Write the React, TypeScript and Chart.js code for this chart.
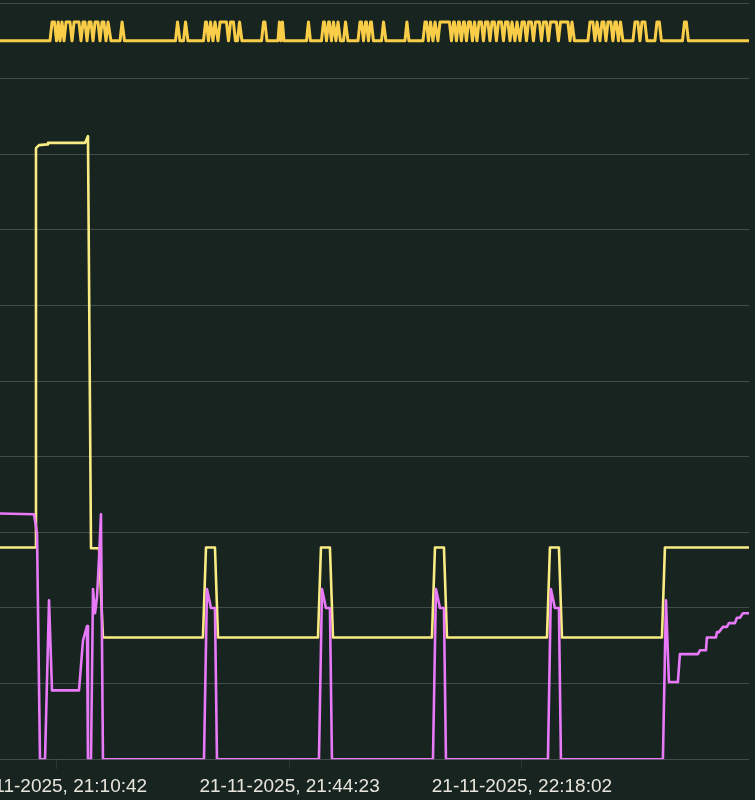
import React, { useEffect, useRef } from "react";
import { Chart, registerables } from "chart.js";

Chart.register(...registerables);

// ---------- data ----------
const DATE_LABEL = "21-11-2025";
const WINDOW_START = "21:02:27";
const WINDOW_END = "22:50:55";
const TICK_TIMES = ["21:10:42", "21:44:23", "22:18:02"];

// [minutes since window start, value]
const YELLOW: [number, number][] = [
  [0, 28.0], [5.07, 28.0], [5.21, 80.8], [5.65, 81.2], [6.81, 81.3], [6.95, 81.5],
  [12.31, 81.5], [12.74, 82.4], [13.18, 27.9], [14.34, 27.9], [14.91, 16.1],
  [29.39, 16.1], [29.83, 28.0], [31.13, 28.0], [31.57, 16.1],
  [46.05, 16.1], [46.48, 28.0], [47.78, 28.0], [48.22, 16.1],
  [62.55, 16.1], [62.99, 28.0], [64.29, 28.0], [64.73, 16.1],
  [79.21, 16.1], [79.64, 28.0], [80.94, 28.0], [81.38, 16.1],
  [95.86, 16.1], [96.29, 28.0], [108.47, 28.0],
];

const VIOLET: [number, number][] = [
  [0, 32.5], [4.92, 32.4], [5.36, 29.9], [5.79, 0], [6.52, 0], [7.10, 21.0], [7.53, 9.1],
  [11.44, 9.1], [12.02, 15.7], [12.60, 17.6], [12.74, 0], [13.18, 0], [13.47, 22.5],
  [13.76, 19.3], [14.05, 21.4], [14.34, 26.6], [14.62, 32.4], [14.91, 0],
  [29.54, 0], [29.97, 22.5], [30.55, 20.0], [31.13, 20.0], [31.42, 0],
  [46.19, 0], [46.63, 22.5], [47.20, 20.0], [47.78, 20.0], [48.07, 0],
  [62.70, 0], [63.13, 22.5], [63.71, 20.0], [64.29, 20.0], [64.58, 0],
  [79.35, 0], [79.78, 22.5], [80.36, 20.0], [80.94, 20.0], [81.23, 0],
  [96.00, 0], [96.44, 21.0], [96.87, 10.2], [98.17, 10.2], [98.46, 13.9], [101.07, 13.9],
  [101.36, 14.4], [102.23, 14.4], [102.37, 16.1], [103.68, 16.1], [103.82, 16.8],
  [104.11, 16.8], [104.69, 17.5], [105.27, 17.5], [105.56, 18.0], [106.43, 18.0],
  [106.72, 18.7], [107.15, 18.7], [107.59, 19.3], [108.47, 19.3],
];

// on/off signal: each burst = [rise start, dip, dip, ..., fall end] (minutes)
const ORANGE_LOW = 95;
const ORANGE_HIGH = 97.5;
const ORANGE_SAMPLE = 0.3;
const ORANGE_BURSTS: number[][] = [
  [7.24, 8.18, 8.69, 9.27, 10.43, 11.73, 12.6, 13.47, 14.48, 15.35, 16.07],
  [17.38, 18.03],
  [25.41, 26.06],
  [26.57, 27.22],
  [29.47, 30.19, 30.84, 31.57, 33.09, 34.1],
  [34.39, 35.04],
  [37.87, 38.66],
  [40.25, 40.69, 41.12],
  [44.38, 44.96],
  [46.55, 47.28, 48.0, 48.65, 49.3],
  [49.74, 50.39],
  [51.84, 52.64, 53.36, 54.08],
  [55.24, 55.89],
  [58.64, 59.22],
  [61.25, 62.05, 62.7, 63.42, 65.38, 66.1, 66.82, 67.55, 68.42, 69.07, 70.01, 70.95,
    71.89, 72.91, 73.85, 74.57, 75.3, 76.24, 77.25, 78.41, 79.42, 80.87, 82.54, 83.19],
  [85.14, 86.16, 86.88, 87.75, 88.76, 89.56, 90.21],
  [91.66, 92.67, 93.69],
  [94.84, 95.78],
  [98.83, 99.69],
];

// ---------- helpers ----------
const toMin = (hms: string) => {
  const [h, m, s] = hms.split(":").map(Number);
  return h * 60 + m + s / 60;
};
const X_MAX = toMin(WINDOW_END) - toMin(WINDOW_START);
const TICK_VALUES = TICK_TIMES.map((t) => toMin(t) - toMin(WINDOW_START));

const pairs = (arr: [number, number][]) => arr.map(([x, y]) => ({ x, y }));

function buildOrange() {
  const pts: { x: number; y: number }[] = [{ x: 0, y: ORANGE_LOW }];
  for (const b of ORANGE_BURSTS) {
    for (let i = 0; i < b.length - 1; i++) {
      const a = b[i];
      const c = b[i + 1];
      const mid = (a + c) / 2;
      const t1 = Math.min(a + ORANGE_SAMPLE, mid);
      const t2 = Math.max(c - ORANGE_SAMPLE, mid);
      pts.push({ x: a, y: ORANGE_LOW });
      pts.push({ x: t1, y: ORANGE_HIGH });
      if (t2 > t1) pts.push({ x: t2, y: ORANGE_HIGH });
    }
    pts.push({ x: b[b.length - 1], y: ORANGE_LOW });
  }
  pts.push({ x: X_MAX, y: ORANGE_LOW });
  return pts;
}

const BG = "#17241f";
const OFFSET_LEFT = 50;
const CANVAS_W = 755 + OFFSET_LEFT;
const CANVAS_H = 804;

export default function App() {
  const ref = useRef<HTMLCanvasElement | null>(null);

  useEffect(() => {
    if (!ref.current) return;
    const common = {
      pointRadius: 0,
      tension: 0,
      fill: false,
      borderJoinStyle: "round" as const,
      borderCapStyle: "round" as const,
    };
    const chart = new Chart(ref.current, {
      type: "line",
      data: {
        datasets: [
          { label: "violet", data: pairs(VIOLET), borderColor: "#e879f9", borderWidth: 2.6, ...common },
          { label: "yellow", data: pairs(YELLOW), borderColor: "#faec84", borderWidth: 2.6, ...common },
          { label: "orange", data: buildOrange(), borderColor: "#f9cd47", borderWidth: 3, ...common },
        ],
      },
      options: {
        animation: false,
        responsive: false,
        devicePixelRatio: 1,
        parsing: false as any,
        layout: { padding: { left: OFFSET_LEFT, right: 6, top: 3, bottom: 0 } },
        plugins: { legend: { display: false }, tooltip: { enabled: false } },
        scales: {
          x: {
            type: "linear",
            min: 0,
            max: X_MAX,
            afterBuildTicks: (scale: any) => {
              scale.ticks = TICK_VALUES.map((v) => ({ value: v }));
            },
            ticks: {
              autoSkip: false,
              maxRotation: 0,
              padding: 6,
              color: "#e8e6dc",
              font: { size: 19, family: '"Liberation Sans", Arial, Helvetica, sans-serif' },
              callback: (_v: any, i: number) => `${DATE_LABEL}, ${TICK_TIMES[i]}`,
            },
            grid: {
              drawOnChartArea: false,
              drawTicks: true,
              tickLength: 10,
              color: "rgba(255,255,255,0.09)",
            },
            border: { display: false },
          },
          y: {
            min: 0,
            max: 100,
            ticks: { display: false, stepSize: 10 },
            grid: { color: "rgba(255,255,255,0.19)", drawTicks: false, lineWidth: 1 },
            border: { display: false },
          },
        },
      },
    });
    return () => chart.destroy();
  }, []);

  return (
    <div
      style={{
        position: "absolute",
        left: 0,
        top: 0,
        width: 755,
        height: 800,
        overflow: "hidden",
        background: BG,
      }}
    >
      <canvas
        ref={ref}
        width={CANVAS_W}
        height={CANVAS_H}
        style={{ position: "absolute", left: -OFFSET_LEFT, top: 0, width: CANVAS_W, height: CANVAS_H }}
      />
    </div>
  );
}
